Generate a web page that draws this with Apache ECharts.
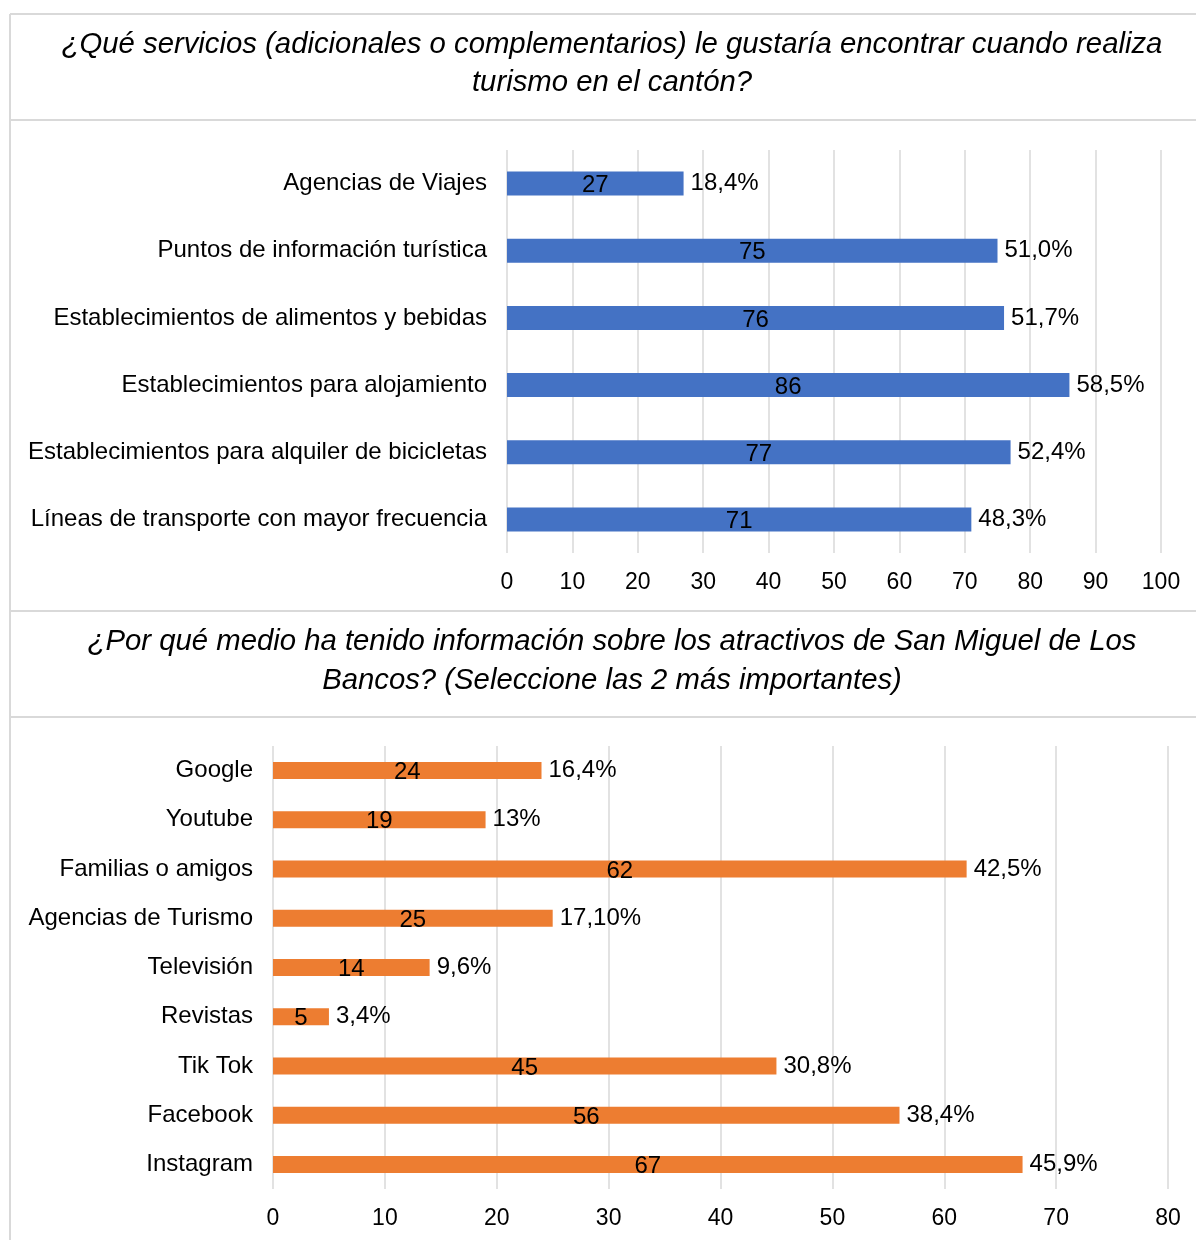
<!DOCTYPE html>
<html><head><meta charset="utf-8">
<script src="https://cdn.jsdelivr.net/npm/echarts@6/dist/echarts.min.js"></script>
<style>html,body{margin:0;padding:0;background:#fff}#c{width:1196px;height:1240px}</style>
</head><body><div id="c"></div>
<script>
const title1 = '¿Qué servicios (adicionales o complementarios) le gustaría encontrar cuando realiza\nturismo en el cantón?';
const cats1 = ['Agencias de Viajes','Puntos de información turística','Establecimientos de alimentos y bebidas','Establecimientos para alojamiento','Establecimientos para alquiler de bicicletas','Líneas de transporte con mayor frecuencia'];
const vals1 = [27,75,76,86,77,71];
const pct1 = ['18,4%','51,0%','51,7%','58,5%','52,4%','48,3%'];

const title2 = '¿Por qué medio ha tenido información sobre los atractivos de San Miguel de Los\nBancos? (Seleccione las 2 más importantes)';
const cats2 = ['Google','Youtube','Familias o amigos','Agencias de Turismo','Televisión','Revistas','Tik Tok','Facebook','Instagram'];
const vals2 = [24,19,62,25,14,5,45,56,67];
const pct2 = ['16,4%','13%','42,5%','17,10%','9,6%','3,4%','30,8%','38,4%','45,9%'];

const FONT = '"Liberation Sans", Arial, sans-serif';
const chart = echarts.init(document.getElementById('c'));
const lineStyle = {stroke:'#d9d9d9', lineWidth:2};
function hline(y){return {type:'line', shape:{x1:10,y1:y,x2:1196,y2:y}, style:lineStyle, silent:true};}
const txt = {fontFamily:FONT, fontSize:24, color:'#000'};
const tickTxt = {fontFamily:FONT, fontSize:23, color:'#000'};

function axes(gi, cats, max){
  return {
    x: {type:'value', gridIndex:gi, min:0, max:max, interval:10,
        axisLine:{show:false}, axisTick:{show:false},
        axisLabel:Object.assign({margin:18}, tickTxt),
        splitLine:{show:true, lineStyle:{color:'#d9d9d9', width:1.5}}},
    y: {type:'category', gridIndex:gi, data:cats, inverse:true,
        axisLine:{show:false}, axisTick:{show:false},
        axisLabel:Object.assign({margin:20}, txt)}
  };
}
const a1 = axes(0, cats1, 100), a2 = axes(1, cats2, 80);

function seriesPair(gi, vals, pcts, color, bw){
  return [
    {type:'bar', xAxisIndex:gi, yAxisIndex:gi, data:vals, barWidth:bw,
     itemStyle:{color:color}, silent:true,
     label:Object.assign({show:true, position:'inside', offset:[0,2]}, txt)},
    {type:'bar', xAxisIndex:gi, yAxisIndex:gi, data:vals, barWidth:bw, barGap:'-100%',
     itemStyle:{color:'rgba(0,0,0,0)'}, silent:true,
     label:Object.assign({show:true, position:'right', distance:7,
       formatter:p=>pcts[p.dataIndex]}, txt)}
  ];
}

chart.setOption({
  animation:false,
  title:[
    {text:title1, left:607, top:21, textAlign:'center',
     textStyle:{fontFamily:FONT, fontSize:29.3, fontStyle:'italic', fontWeight:'normal', color:'#000', lineHeight:38}},
    {text:title2, left:607, top:617, textAlign:'center',
     textStyle:{fontFamily:FONT, fontSize:29.3, fontStyle:'italic', fontWeight:'normal', color:'#000', lineHeight:39}}
  ],
  grid:[
    {left:507, right:35, top:150, height:403},
    {left:273, right:28, top:746, height:443}
  ],
  xAxis:[a1.x, a2.x],
  yAxis:[a1.y, a2.y],
  series:[...seriesPair(0, vals1, pct1, '#4472C4', 24), ...seriesPair(1, vals2, pct2, '#ED7D31', 17)],
  graphic:[
    hline(14), hline(120), hline(611), hline(717),
    {type:'line', shape:{x1:10,y1:14,x2:10,y2:1240}, style:lineStyle, silent:true}
  ]
});
</script></body></html>
